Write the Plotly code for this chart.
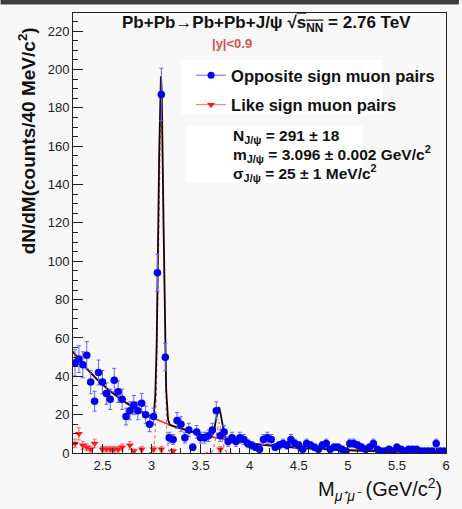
import numpy as np
import plotly.graph_objects as go

# ---------------- data ----------------
bin_centers = [
    2.22, 2.26, 2.30, 2.34, 2.38, 2.42, 2.46, 2.50, 2.54, 2.58,
    2.62, 2.66, 2.70, 2.74, 2.78, 2.82, 2.86, 2.90, 2.94, 2.98,
    3.02, 3.06, 3.10, 3.14, 3.18, 3.22, 3.26, 3.30, 3.34, 3.38,
    3.42, 3.46, 3.50, 3.54, 3.58, 3.62, 3.66, 3.70, 3.74, 3.78,
    3.82, 3.86, 3.90, 3.94, 3.98, 4.02, 4.06, 4.10, 4.14, 4.18,
    4.22, 4.26, 4.30, 4.34, 4.38, 4.42, 4.46, 4.50, 4.54, 4.58,
    4.62, 4.66, 4.70, 4.74, 4.78, 4.82, 4.86, 4.90, 4.94, 4.98,
    5.02, 5.06, 5.10, 5.14, 5.18, 5.22, 5.26, 5.30, 5.34, 5.38,
    5.42, 5.46, 5.50, 5.54, 5.58, 5.62, 5.66, 5.70, 5.74, 5.78,
    5.82, 5.86, 5.90, 5.94, 5.98,
]

opposite_sign = [
    47, 49, 46, 51, 37, 27, 42, 37, 31, 28,
    38, 32, 28, 19, 22, 25, 22, 26, 20, 15,
    19, 94, 187, 50, 8, 7, 17, 15, 8, 12,
    3, 11, 8, 8, 9, 12, 22, 9, 11, 6,
    8, 6, 8, 7, 5, 4, 3, 2, 7, 8,
    7, 3, 4, 5, 4, 7, 5, 4, 2, 5,
    4, 3, 2, 4, 5, 2, 3, 3, 2, 1,
    5, 5, 4, 3, 2, 3, 5, 2, 1, 1,
    2, 1, 3, 2, 1, 2, 2, 2, 1, 1,
    1, 1, 5, 1, 1,
]

N = None
like_sign = [
    5, 10, 4, 3, 2, 5, N, 2, 2, 2,
    2, 2, 3, N, 4, 1, N, 2, N, N,
    2, N, 2, N, N, 1, N, N, N, N,
    N, N, N, N, N, N, N, 2, N, N,
    N, N, N, N, N, N, N, N, N, N,
    N, N, N, N, N, N, N, N, N, N,
    N, N, N, N, N, N, N, N, N, N,
    N, N, N, N, N, N, N, N, N, N,
    N, N, N, N, N, N, N, N, N, N,
    N, N, N, N, N,
]

x_ticks = [2.5, 3, 3.5, 4, 4.5, 5, 5.5, 6]
y_ticks = [0, 20, 40, 60, 80, 100, 120, 140, 160, 180, 200, 220]

# fit-function parameters (exponential background + two Gaussians)
bkg_norm = 52.8
bkg_slope = 1.30
jpsi_amp = 180.0
jpsi_mass = 3.096
jpsi_sigma = 0.025
psi2s_amp = 16.0
psi2s_mass = 3.686
psi2s_sigma = 0.028

x_range = [2.2, 6.0]
y_range = [0, 229.5]

# ---------------- derived ----------------
os_err = [np.sqrt(v) for v in opposite_sign]
ls_err = [np.sqrt(v) if v is not None else None for v in like_sign]

xs = np.linspace(x_range[0], x_range[1], 2000)
bkg = bkg_norm * np.exp(-bkg_slope * (xs - x_range[0]))
g1 = jpsi_amp * np.exp(-0.5 * ((xs - jpsi_mass) / jpsi_sigma) ** 2)
g2 = psi2s_amp * np.exp(-0.5 * ((xs - psi2s_mass) / psi2s_sigma) ** 2)
total = bkg + g1 + g2

m1 = np.abs(xs - jpsi_mass) < 5 * jpsi_sigma
m2 = np.abs(xs - psi2s_mass) < 5 * psi2s_sigma

FONT = "Liberation Sans, Arial, sans-serif"
BLUE = "#0000f0"
BLUE_ERR = "#6464ff"
RED = "#ff1a1a"
RED_ERR = "#ff6a6a"

fig = go.Figure()

# Gaussian components (dotted)
fig.add_trace(go.Scatter(x=xs[m1], y=g1[m1], mode="lines",
                         line=dict(color="#e06a6a", width=1.2, dash="dot"),
                         showlegend=False, hoverinfo="skip"))
fig.add_trace(go.Scatter(x=xs[m2], y=g2[m2], mode="lines",
                         line=dict(color="#e06a6a", width=1.2, dash="dot"),
                         showlegend=False, hoverinfo="skip"))
# background
fig.add_trace(go.Scatter(x=xs, y=bkg, mode="lines",
                         line=dict(color=RED, width=1.6),
                         showlegend=False, hoverinfo="skip"))
# total
fig.add_trace(go.Scatter(x=xs, y=total, mode="lines",
                         line=dict(color="#1a0505", width=1.8),
                         showlegend=False, hoverinfo="skip"))

# like sign data
fig.add_trace(go.Scatter(x=bin_centers, y=like_sign, mode="markers",
                         marker=dict(symbol="triangle-down", size=7, color=RED),
                         error_y=dict(type="data", array=ls_err, color=RED_ERR,
                                      thickness=1, width=2),
                         showlegend=False))
# opposite sign data
fig.add_trace(go.Scatter(x=bin_centers, y=opposite_sign, mode="markers",
                         marker=dict(symbol="circle", size=7.5, color=BLUE),
                         error_y=dict(type="data", array=os_err, color=BLUE_ERR,
                                      thickness=1, width=2),
                         showlegend=False))

# legend entries
fig.add_trace(go.Scatter(x=[None], y=[None], mode="lines+markers",
                         name="<b>Opposite sign muon pairs</b>",
                         marker=dict(symbol="circle", size=7, color=BLUE),
                         line=dict(color=BLUE_ERR, width=1), legendgroup="a"))
fig.add_trace(go.Scatter(x=[None], y=[None], mode="lines+markers",
                         name="<b>Like sign muon pairs</b>",
                         marker=dict(symbol="triangle-down", size=7, color=RED),
                         line=dict(color=RED_ERR, width=1), legendgroup="b"))

PW, PH = 376.0, 440.0
L, T = 73.0, 13.0


def px(xp):
    return (xp - L) / PW


def py(yp):
    return (T + PH - yp) / PH


shapes = [
    # top dark band of the screenshot
    dict(type="rect", xref="paper", yref="paper", x0=px(0), x1=px(462),
         y0=py(4.5), y1=py(0), fillcolor="#3d3d3d", line=dict(width=0), layer="above"),
    # legend white box
    dict(type="rect", xref="paper", yref="paper", x0=px(182), x1=px(385),
         y0=py(115), y1=py(60), fillcolor="white", line=dict(width=0), layer="below"),
    # stats white box
    dict(type="rect", xref="paper", yref="paper", x0=px(187), x1=px(365),
         y0=py(183), y1=py(125), fillcolor="white", line=dict(width=0), layer="below"),
]

annotations = [
    dict(text="<b>Pb+Pb→Pb+Pb+J/ψ √<span style='text-decoration:overline'>s<sub>NN</sub></span> = 2.76 TeV</b>",
         x=px(268), y=py(24), xref="paper", yref="paper", showarrow=False,
         xanchor="center", yanchor="middle", font=dict(family=FONT, size=17, color="#111")),
    dict(text="<b>|y|<0.9</b>", x=px(233), y=py(43), xref="paper", yref="paper",
         showarrow=False, xanchor="center", yanchor="middle",
         font=dict(family=FONT, size=13, color="#d65050")),
    dict(text="<b>N<sub>J/ψ</sub> = 291 ± 18</b>", x=px(232), y=py(136), xref="paper",
         yref="paper", showarrow=False, xanchor="left", yanchor="middle",
         font=dict(family=FONT, size=15.5, color="#111")),
    dict(text="<b>m<sub>J/ψ</sub> = 3.096 ± 0.002 GeV/c<sup>2</sup></b>", x=px(232), y=py(154),
         xref="paper", yref="paper", showarrow=False, xanchor="left", yanchor="middle",
         font=dict(family=FONT, size=15.5, color="#111")),
    dict(text="<b>σ<sub>J/ψ</sub> = 25 ± 1 MeV/c<sup>2</sup></b>", x=px(232), y=py(173),
         xref="paper", yref="paper", showarrow=False, xanchor="left", yanchor="middle",
         font=dict(family=FONT, size=15.5, color="#111")),
    dict(text="<b>dN/dM(counts/40 MeV/c<sup>2</sup>)</b>", x=px(27), y=py(141),
         xref="paper", yref="paper", showarrow=False, textangle=-90,
         xanchor="center", yanchor="middle", font=dict(family=FONT, size=19, color="#111")),
    dict(text="M<sub><i>μ⁺μ⁻</i></sub> (GeV/c<sup>2</sup>)", x=px(447), y=py(490),
         xref="paper", yref="paper", showarrow=False, xanchor="right", yanchor="middle",
         font=dict(family=FONT, size=20, color="#111")),
]

fig.update_layout(
    width=462, height=509,
    margin=dict(l=73, r=13, t=13, b=56),
    paper_bgcolor="#f8f8f8", plot_bgcolor="#f8f8f8",
    shapes=shapes, annotations=annotations,
    showlegend=True,
    legend=dict(x=px(192), y=py(58), xanchor="left", yanchor="top",
                bgcolor="rgba(0,0,0,0)", borderwidth=0,
                font=dict(family=FONT, size=16.5, color="#111"),
                tracegroupgap=5, itemwidth=30),
    xaxis=dict(range=x_range, tickmode="array", tickvals=x_ticks,
               ticktext=[f"{v:g}" for v in x_ticks],
               ticks="inside", ticklen=9, tickcolor="#222", tickwidth=1,
               minor=dict(dtick=0.1, tick0=2.2, ticks="inside", ticklen=5,
                          tickcolor="#222", showgrid=False),
               showline=True, mirror=True, linecolor="#222", linewidth=1,
               showgrid=False, zeroline=False,
               tickfont=dict(family=FONT, size=13, color="#222")),
    yaxis=dict(range=y_range, tickmode="array", tickvals=y_ticks,
               ticks="inside", ticklen=10, tickcolor="#222", tickwidth=1,
               minor=dict(dtick=5, tick0=0, ticks="inside", ticklen=5,
                          tickcolor="#222", showgrid=False),
               showline=True, mirror=True, linecolor="#222", linewidth=1,
               showgrid=False, zeroline=False,
               tickfont=dict(family=FONT, size=13, color="#222")),
)

fig.write_html("out.html")
